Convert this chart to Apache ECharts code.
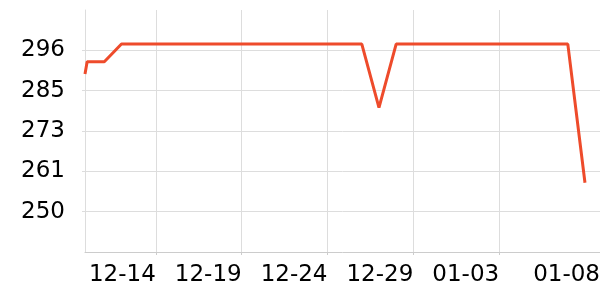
<!DOCTYPE html>
<html>
<head>
<meta charset="utf-8">
<script src="https://cdn.jsdelivr.net/npm/echarts@6/dist/echarts.min.js"></script>
<style>
  html, body { margin: 0; padding: 0; background: #fff; }
  #chart { width: 600px; height: 300px; }
</style>
</head>
<body>
<div id="chart"></div>
<script>
// ---- data ----
const dates = [
  '2023-12-09T21:00:00Z',
  '2023-12-10T00:00:00Z', '2023-12-11T00:00:00Z', '2023-12-12T00:00:00Z',
  '2023-12-13T00:00:00Z', '2023-12-14T00:00:00Z', '2023-12-15T00:00:00Z',
  '2023-12-16T00:00:00Z', '2023-12-17T00:00:00Z', '2023-12-18T00:00:00Z',
  '2023-12-19T00:00:00Z', '2023-12-20T00:00:00Z', '2023-12-21T00:00:00Z',
  '2023-12-22T00:00:00Z', '2023-12-23T00:00:00Z', '2023-12-24T00:00:00Z',
  '2023-12-25T00:00:00Z', '2023-12-26T00:00:00Z', '2023-12-27T00:00:00Z',
  '2023-12-28T00:00:00Z', '2023-12-29T00:00:00Z', '2023-12-30T00:00:00Z',
  '2023-12-31T00:00:00Z', '2024-01-01T00:00:00Z', '2024-01-02T00:00:00Z',
  '2024-01-03T00:00:00Z', '2024-01-04T00:00:00Z', '2024-01-05T00:00:00Z',
  '2024-01-06T00:00:00Z', '2024-01-07T00:00:00Z', '2024-01-08T00:00:00Z'
];
const values = [
  289.3,
  292.8, 292.8, 297.9,
  297.9, 297.9, 297.9,
  297.9, 297.9, 297.9,
  297.9, 297.9, 297.9,
  297.9, 297.9, 297.9,
  297.9, 297.9, 279.6,
  297.9, 297.9, 297.9,
  297.9, 297.9, 297.9,
  297.9, 297.9, 297.9,
  297.9, 297.9, 258.0
];
const xMin = '2023-12-09T21:00:00Z';
const xMax = '2024-01-08T21:00:00Z';
const xTickDates = ['2023-12-14T00:00:00Z', '2023-12-19T00:00:00Z', '2023-12-24T00:00:00Z',
                    '2023-12-29T00:00:00Z', '2024-01-03T00:00:00Z'];
const xLabelDates = xTickDates.concat([xMax]);
const yMin = 238.1;
const yMax = 307.7;
const yTicks = [249.7, 261.3, 272.9, 284.5, 296.1];

// ---- chart ----
const ts = s => Date.parse(s);
const pad = n => (n < 10 ? '0' : '') + n;
const chart = echarts.init(document.getElementById('chart'), null, { renderer: 'canvas' });
chart.setOption({
  animation: false,
  textStyle: { fontFamily: 'DejaVu Sans' },
  grid: { left: 85, right: 0, top: 10, bottom: 48, containLabel: false, outerBoundsMode: 'none' },
  xAxis: {
    type: 'value',
    min: ts(xMin),
    max: ts(xMax),
    axisLine: { show: true, lineStyle: { color: '#cccccc', width: 1 } },
    axisTick: { show: true, length: 3, customValues: xTickDates.map(ts), lineStyle: { color: '#cccccc' } },
    splitLine: { show: true, lineStyle: { color: '#dddddd', width: 1 } },
    axisLabel: {
      customValues: xLabelDates.map(ts),
      fontFamily: 'DejaVu Sans',
      fontSize: 23,
      color: '#000',
      align: 'right',
      margin: 12,
      formatter: v => { const d = new Date(v); return pad(d.getUTCMonth() + 1) + '-' + pad(d.getUTCDate()); }
    }
  },
  yAxis: {
    type: 'value',
    min: yMin,
    max: yMax,
    axisLine: { show: true, lineStyle: { color: '#dddddd', width: 1 } },
    axisTick: { show: true, length: 3, customValues: yTicks, lineStyle: { color: '#dddddd' } },
    splitLine: { show: true, lineStyle: { color: '#dddddd', width: 1 } },
    axisLabel: {
      customValues: yTicks,
      fontFamily: 'DejaVu Sans',
      fontSize: 23,
      color: '#000',
      margin: 20,
      formatter: v => String(Math.round(v))
    }
  },
  series: [{
    type: 'line',
    data: dates.map((d, i) => [ts(d), values[i]]),
    showSymbol: false,
    symbol: 'none',
    clip: true,
    lineStyle: { color: '#ee4b2b', width: 3 }
  }]
});
</script>
</body>
</html>
